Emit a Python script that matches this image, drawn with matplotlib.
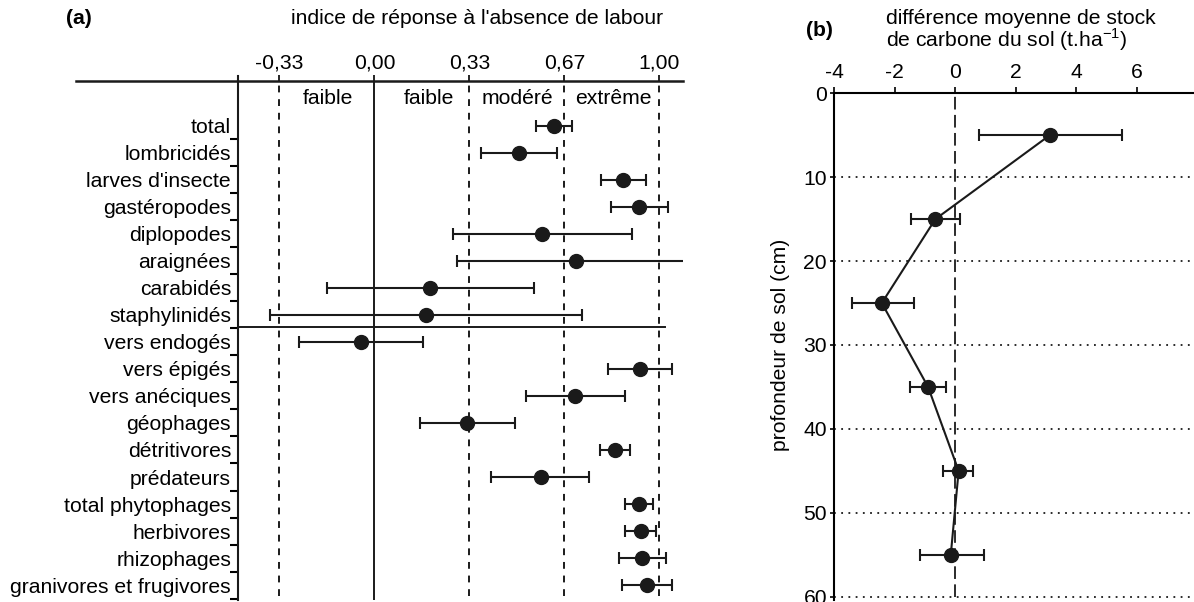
import matplotlib
matplotlib.use("Agg")
import matplotlib.pyplot as plt
from matplotlib.lines import Line2D
import numpy as np

plt.rcParams['font.family'] = ['Liberation Sans', 'DejaVu Sans']

# ---------------- data panel (a) ----------------
categories = ["total", "lombricidés", "larves d'insecte", "gastéropodes", "diplopodes",
              "araignées", "carabidés", "staphylinidés", "vers endogés", "vers épigés",
              "vers anéciques", "géophages", "détritivores", "prédateurs",
              "total phytophages", "herbivores", "rhizophages", "granivores et frugivores"]
index_mean = [0.631, 0.506, 0.874, 0.929, 0.589, 0.709, 0.196, 0.181, -0.049, 0.932,
              0.703, 0.325, 0.843, 0.583, 0.929, 0.934, 0.939, 0.957]
index_low = [0.566, 0.374, 0.794, 0.829, 0.275, 0.289, -0.165, -0.368, -0.265, 0.818,
             0.533, 0.161, 0.793, 0.409, 0.881, 0.878, 0.858, 0.870]
index_high = [0.695, 0.642, 0.952, 1.031, 0.904, 1.122, 0.559, 0.730, 0.169, 1.044,
              0.881, 0.493, 0.897, 0.752, 0.978, 0.988, 1.024, 1.044]
tick_pos_a = [-1/3, 0.0, 1/3, 2/3, 1.0]
tick_lab_a = ["-0,33", "0,00", "0,33", "0,67", "1,00"]
zone_labels = ["faible", "faible", "modéré", "extrême"]
zone_x = [-0.164, 0.19, 0.50, 0.84]

# ---------------- data panel (b) ----------------
depth = [5, 15, 25, 35, 45, 55]
carbon_diff = [3.13, -0.65, -2.42, -0.89, 0.12, -0.14]
carbon_low = [0.78, -1.47, -3.41, -1.49, -0.39, -1.16]
carbon_high = [5.52, 0.18, -1.35, -0.30, 0.61, 0.97]
xticks_b = [-4, -2, 0, 2, 4, 6]
yticks_b = [0, 10, 20, 30, 40, 50, 60]

W, H = 1194, 602
fig = plt.figure(figsize=(W / 100, H / 100), dpi=100)

def rect(x0, y0, x1, y1):
    return [x0 / W, 1 - y1 / H, (x1 - x0) / W, (y1 - y0) / H]

FS = 15.2
INK = '#1a1a1a'
# ================= panel (a) =================
ax = fig.add_axes(rect(238, 81, 683, 600))
n = len(categories)
ypos = np.arange(n)
xmin_a, xmax_a = -0.479, 1.083
ax.set_xlim(xmin_a, xmax_a)
ax.set_ylim(n - 0.45, -1.65)

for s in ['right', 'bottom', 'top']:
    ax.spines[s].set_visible(False)
ax.spines['left'].set_linewidth(1.5)
ax.spines['left'].set_color(INK)

# reference lines
for xv in [-1/3, 1/3, 2/3, 1.0]:
    ax.plot([xv, xv], [n - 0.6, -1.65], ls=(0, (3.5, 3.5)), color=INK, lw=1.4)
ax.plot([0, 0], [n - 0.45, -1.65], color=INK, lw=1.4)
# separator between groups
ax.plot([xmin_a, 1.02], [7.45, 7.45], color=INK, lw=1.4)

err = [np.array(index_mean) - np.array(index_low), np.array(index_high) - np.array(index_mean)]
ax.errorbar(index_mean, ypos, xerr=err, fmt='o', color=INK, ms=10,
            elinewidth=1.5, capsize=4, capthick=1.5, zorder=5)

ax.xaxis.tick_top()
ax.set_xticks(tick_pos_a)
ax.set_xticklabels(tick_lab_a, fontsize=FS)
ax.tick_params(axis='x', direction='out', length=4, width=1.2, pad=2)
ax.set_yticks(ypos)
ax.set_yticklabels(categories, fontsize=FS)
ax.tick_params(axis='y', length=0, pad=5)
ax.set_yticks(np.arange(0.5, n, 1.0), minor=True)
ax.tick_params(axis='y', which='minor', length=6, width=1.5, direction='out')

for lab, xv in zip(zone_labels, zone_x):
    ax.text(xv, -1.0, lab, ha='center', va='center', fontsize=FS)

# top line extending across labels
fig.add_artist(Line2D([76 / W, 683 / W], [1 - 81 / H, 1 - 81 / H], color=INK, lw=1.8))
fig.add_artist(Line2D([238 / W, 238 / W], [1 - 76 / H, 1 - 81 / H], color=INK, lw=1.5))

fig.text(477 / W, 1 - 19 / H, "indice de réponse à l'absence de labour", ha='center',
         va='center', fontsize=FS)
fig.text(66 / W, 1 - 19 / H, "(a)", ha='left', va='center', fontsize=FS, fontweight='bold')

# ================= panel (b) =================
bx = fig.add_axes(rect(834, 93.3, 1194, 596.7))
bx.set_xlim(-4, 7.9)
bx.set_ylim(60, 0)
for s in ['right', 'bottom']:
    bx.spines[s].set_visible(False)
bx.spines['left'].set_linewidth(1.5)
bx.spines['top'].set_linewidth(1.5)
bx.spines['left'].set_bounds(60.4, 0)

for yv in yticks_b[1:]:
    bx.plot([-4, 7.9], [yv, yv], ls=(0, (1, 3)), color=INK, lw=1.3, clip_on=False)
bx.plot([0, 0], [60, 0], ls=(0, (7, 3)), color=INK, lw=1.3)

errb = [np.array(carbon_diff) - np.array(carbon_low), np.array(carbon_high) - np.array(carbon_diff)]
bx.errorbar(carbon_diff, depth, xerr=errb, fmt='-o', color=INK, ms=10, lw=1.5,
            elinewidth=1.5, capsize=4, capthick=1.5, zorder=5, clip_on=False)

bx.xaxis.tick_top()
bx.set_xticks(xticks_b)
bx.set_xticklabels([str(v) for v in xticks_b], fontsize=FS)
bx.set_yticks(yticks_b)
bx.set_yticklabels([str(v) for v in yticks_b], fontsize=FS)
bx.tick_params(axis='x', direction='out', length=4, width=1.2, pad=4)
bx.tick_params(axis='y', direction='out', length=3, width=1.2, pad=2)
bx.set_ylabel("profondeur de sol (cm)", fontsize=FS, labelpad=10)

fig.text(886 / W, 1 - 18 / H, "différence moyenne de stock", ha='left', va='center', fontsize=FS)
fig.text(886 / W, 1 - 40 / H, "de carbone du sol (t.ha$^{\\mathregular{-1}}$)", ha='left',
         va='center', fontsize=FS)
fig.text(806 / W, 1 - 31 / H, "(b)", ha='left', va='center', fontsize=FS, fontweight='bold')

fig.savefig("out.png", dpi=100)
